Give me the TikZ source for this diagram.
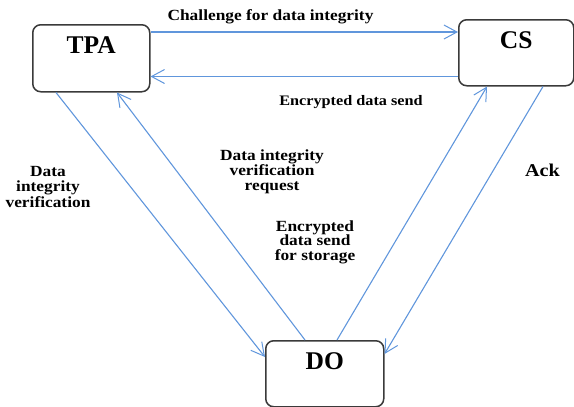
\documentclass[tikz,border=0pt]{standalone}
\usepackage{fontspec}
\setmainfont{Liberation Serif}
\newfontfamily\lblfont[FakeStretch=1.12]{Liberation Serif}
\usetikzlibrary{arrows.meta,calc}
\definecolor{flow}{RGB}{96,150,220}
\definecolor{frame}{RGB}{58,58,58}
\begin{document}
\begin{tikzpicture}[x=1pt,y=-1pt,
  party/.style={draw=frame, line width=1.5pt, rounded corners=8pt, fill=white,
    anchor=north west, inner sep=0pt},
  partyname/.style={font=\fontsize{25.5}{27}\selectfont\bfseries, anchor=base,
    label distance=-29pt, inner sep=0pt},
  msg/.style={font=\lblfont\fontsize{15.5}{15.5}\selectfont\bfseries, align=center,
    anchor=base, inner sep=0pt},
  flowarrow/.style={draw=flow, line width=1.1pt,
    -{Straight Barb[length=13pt,width=14pt,line width=1pt]}}
]
\useasboundingbox (0,0) rectangle (574,407);

% the three parties
\node[party, minimum width=117pt, minimum height=67pt,
  label={[partyname, name=TPAname]north:TPA}] (TPA) at (32,24) {};
\node[party, minimum width=115pt, minimum height=66pt,
  label={[partyname, name=CSname]north:CS}] (CS) at (458,19) {};
\node[party, minimum width=118pt, minimum height=66pt,
  label={[partyname, name=DOname]north:DO}] (DO) at (265,340) {};

% TPA <-> CS
\coordinate (c1) at ($(TPA.north east)+(0,8)$);
\draw[flowarrow] (c1) -- (c1 -| CS.west);
\coordinate (c2) at ($(CS.south west)+(0,-10)$);
\draw[flowarrow] (c2) -- (c2 -| TPA.east);

% TPA <-> DO
\draw[flowarrow] ($(TPA.south west)+(24,0)$) -- ($(DO.north west)+(0,17)$);
\draw[flowarrow] ($(DO.north west)+(40,0)$) -- ($(TPA.south west)+(85,0)$);

% DO <-> CS
\draw[flowarrow] ($(DO.north west)+(72,0)$) -- ($(CS.south west)+(29,0)$);
\draw[flowarrow] ($(CS.south west)+(85,0)$) -- ($(DO.north east)+(0,14)$);

% message labels (multi-line labels sit on the baseline of their last line)
\node[msg] (m1) at (270.5,20) {Challenge for data integrity};
\node[msg, font=\lblfont\fontsize{14.5}{15}\selectfont\bfseries] (m2) at (351,105)
  {Encrypted data send};
\node[msg] (m3) at (48,207) {Data\\integrity\\verification};
\node[msg, font=\lblfont\fontsize{15.5}{15}\selectfont\bfseries] (m4) at (272,190)
  {Data integrity\\verification\\request};
\node[msg, font=\lblfont\fontsize{15.5}{14.5}\selectfont\bfseries] (m5) at (315,260)
  {Encrypted\\data send\\for storage};
\node[msg, font=\lblfont\fontsize{18}{19}\selectfont\bfseries] (m6) at (542.5,176) {Ack};
\end{tikzpicture}
\end{document}
